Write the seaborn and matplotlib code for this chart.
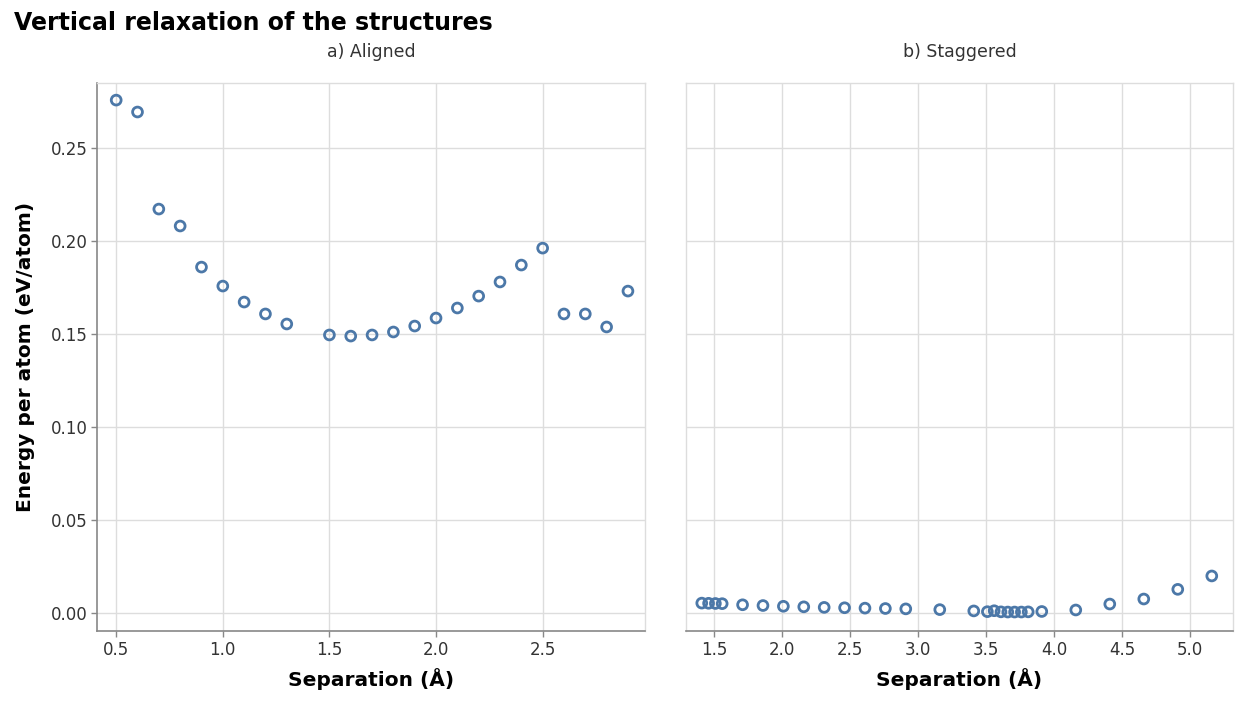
import pandas as pd
import seaborn as sb
import matplotlib
matplotlib.use('Agg')
import matplotlib.pyplot as plt

# a) aligned stacking
aligned_sep = [0.5, 0.6, 0.7, 0.8, 0.9, 1.0, 1.1, 1.2, 1.3, 1.5, 1.6, 1.7,
               1.8, 1.9, 2.0, 2.1, 2.2, 2.3, 2.4, 2.5, 2.6, 2.7, 2.8, 2.9]
aligned_energy = [0.2758, 0.2694, 0.2172, 0.2081, 0.1860, 0.1758, 0.1672, 0.1608,
                  0.1554, 0.1495, 0.1489, 0.1495, 0.1511, 0.1543, 0.1586, 0.1640,
                  0.1704, 0.1780, 0.1871, 0.1962, 0.1608, 0.1608, 0.1538, 0.1731]

# b) staggered stacking
staggered_sep = [1.41, 1.46, 1.51, 1.56, 1.71, 1.86, 2.01, 2.16, 2.31, 2.46,
                 2.61, 2.76, 2.91, 3.16, 3.41, 3.51, 3.56, 3.61, 3.66, 3.71,
                 3.76, 3.81, 3.91, 4.16, 4.41, 4.66, 4.91, 5.16]
staggered_energy = [0.0053, 0.0052, 0.0051, 0.0050, 0.0044, 0.0040, 0.0036, 0.0033,
                    0.0030, 0.0028, 0.0026, 0.0024, 0.0022, 0.0018, 0.0011, 0.0007,
                    0.0012, 0.0006, 0.0005, 0.0005, 0.0005, 0.0006, 0.0008, 0.0016,
                    0.0048, 0.0075, 0.0127, 0.0199]

y_ticks = [0.00, 0.05, 0.10, 0.15, 0.20, 0.25]
x_ticks_a = [0.5, 1.0, 1.5, 2.0, 2.5]
x_ticks_b = [1.5, 2.0, 2.5, 3.0, 3.5, 4.0, 4.5, 5.0]

df_a = pd.DataFrame({'sep': aligned_sep, 'energy': aligned_energy})
df_b = pd.DataFrame({'sep': staggered_sep, 'energy': staggered_energy})

sb.set_style('white')
plt.rcParams['font.family'] = ['DejaVu Sans']

W, H = 1246, 703
fig = plt.figure(figsize=(W / 100, H / 100), dpi=100)
ax_a = fig.add_axes([97 / W, (H - 631) / H, 548 / W, 548 / H])
ax_b = fig.add_axes([686 / W, (H - 631) / H, 547 / W, 548 / H])

blue = '#4c78a8'
grid_c = '#dddddd'
axis_c = '#888888'
text_c = '#333333'

panels = [(ax_a, df_a, x_ticks_a, (0.41, 2.98), 'a) Aligned'),
          (ax_b, df_b, x_ticks_b, (1.294, 5.316), 'b) Staggered')]

for ax, df, xt, xl, name in panels:
    sb.scatterplot(data=df, x='sep', y='energy', ax=ax, s=50,
                   facecolor='none', edgecolor=blue, linewidth=2.0, zorder=3)
    ax.set_xlim(*xl)
    ax.set_ylim(-0.0097, 0.285)
    ax.set_xticks(xt)
    ax.set_xticklabels([f'{v:.1f}' for v in xt])
    ax.set_yticks(y_ticks)
    ax.grid(True, color=grid_c, linewidth=1)
    ax.set_axisbelow(True)
    for s in ['top', 'right', 'left']:
        ax.spines[s].set_color(grid_c)
        ax.spines[s].set_linewidth(1)
    ax.spines['bottom'].set_color(axis_c)
    ax.spines['bottom'].set_linewidth(1.2)
    ax.tick_params(axis='x', bottom=True, length=4, width=1, color=axis_c,
                   labelsize=12, labelcolor=text_c, pad=3)
    ax.set_xlabel('Separation (Å)', fontsize=14.5, fontweight='bold', color='black')
    ax.xaxis.label.set_va('center')
    ax.xaxis.set_label_coords(0.5, -(679 - 631) / 548)
    ax.text(0.5, 1 + 31 / 548, name, transform=ax.transAxes,
            ha='center', va='center', fontsize=12.5, color=text_c)

ax_a.spines['left'].set_color(axis_c)
ax_a.spines['left'].set_linewidth(1.2)
ax_a.tick_params(axis='y', left=True, length=4, width=1, color=axis_c,
                 labelsize=12, labelcolor=text_c, pad=3)
ax_a.set_yticklabels([f'{v:.2f}' for v in y_ticks])
ax_a.set_ylabel('Energy per atom (eV/atom)', fontsize=14.5, fontweight='bold', color='black')
ax_a.yaxis.label.set_va('center')
ax_a.yaxis.set_label_coords(-(97 - 26) / 548, 0.5)

ax_b.tick_params(axis='y', left=False, labelleft=False)
ax_b.set_ylabel('')

fig.text(14 / W, 1 - 23 / H, 'Vertical relaxation of the structures',
         ha='left', va='center', fontsize=17, fontweight='bold', color='black')

fig.savefig('out.png', dpi=100)
